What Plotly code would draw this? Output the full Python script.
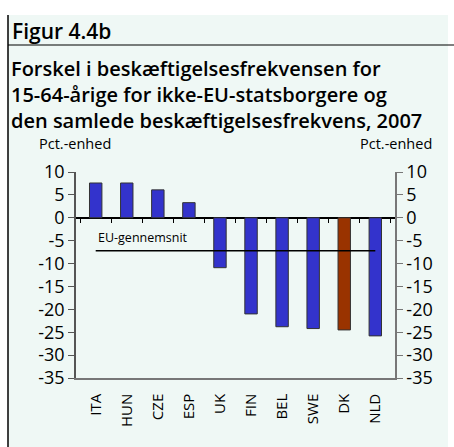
import plotly.graph_objects as go

# data
countries = ['ITA', 'HUN', 'CZE', 'ESP', 'UK', 'FIN', 'BEL', 'SWE', 'DK', 'NLD']
diff = [7.6, 7.6, 6.1, 3.3, -10.9, -21.0, -23.8, -24.2, -24.5, -25.8]
eu_avg = -7.2
y_ticks = [10, 5, 0, -5, -10, -15, -20, -25, -30, -35]

BLUE = '#3333cc'
RED = '#993300'
BG = '#eff8f5'
FONT = 'Open Sans'

W, H = 454, 447
L, R, T, B = 76, 59, 172, 69
PW, PH = W - L - R, H - T - B


def px(x):
    return (x - L) / PW


def py(y):
    return (H - B - y) / PH


colors = [RED if c == 'DK' else BLUE for c in countries]
tick_text = [str(v) for v in y_ticks]  # plain hyphen minus, as in the original

fig = go.Figure()
fig.add_trace(go.Bar(x=countries, y=diff, marker_color=colors,
                     marker_line=dict(color='#333333', width=1),
                     width=0.4, showlegend=False, hoverinfo='skip'))
fig.add_trace(go.Scatter(x=[countries[0], countries[-1]], y=[eu_avg, eu_avg],
                         xaxis='x2', mode='lines', line=dict(color='black', width=1.5),
                         showlegend=False, hoverinfo='skip'))
fig.add_trace(go.Scatter(x=countries, y=diff, yaxis='y2', mode='markers',
                         marker=dict(opacity=0), showlegend=False, hoverinfo='skip'))

axis_font = dict(family=FONT, size=18, color='black')
fig.update_layout(
    width=W, height=H,
    margin=dict(l=L, r=R, t=T, b=B, autoexpand=False),
    paper_bgcolor='white', plot_bgcolor=BG,
    font=dict(family=FONT, color='black'),
    xaxis=dict(type='category', categoryorder='array', categoryarray=countries,
               tickangle=-90, tickfont=dict(family=FONT, size=15), ticks='',
               showline=True, linecolor='#777777', linewidth=1.5, showgrid=False,
               ticklabelstandoff=8, automargin=False),
    xaxis2=dict(overlaying='x', matches='x', anchor='free', position=35 / 45,
                ticks='outside', tickson='boundaries', ticklen=4, tickcolor='black',
                showticklabels=False, showline=False, showgrid=False, automargin=False),
    yaxis=dict(range=[-35, 10], tickvals=y_ticks, ticktext=tick_text, ticks='outside',
               ticklen=6, tickcolor='#555555', showline=True, linecolor='#555555',
               linewidth=1.5, showgrid=False, zeroline=True, zerolinecolor='black',
               zerolinewidth=1.5, tickfont=axis_font, automargin=False),
    yaxis2=dict(overlaying='y', matches='y', side='right', range=[-35, 10],
                tickvals=y_ticks, ticktext=tick_text, ticks='outside', ticklen=6,
                tickcolor='#777777', showline=True, linecolor='#777777', linewidth=1.5,
                showgrid=False, zeroline=False, tickfont=axis_font, automargin=False),
)

# mint panel behind everything, frame lines
fig.add_shape(type='rect', xref='paper', yref='paper', layer='below',
              x0=px(8), x1=px(448), y0=py(447), y1=py(15),
              fillcolor=BG, line_width=0)
fig.add_shape(type='line', xref='paper', yref='paper',
              x0=px(8), x1=px(8), y0=py(447), y1=py(15),
              line=dict(color='black', width=1.5))
fig.add_shape(type='line', xref='paper', yref='paper',
              x0=px(8), x1=px(454), y0=py(45), y1=py(45),
              line=dict(color='black', width=1.2))

fig.add_annotation(text='Figur 4.4b', xref='paper', yref='paper', x=px(10), y=py(31),
                   xanchor='left', yanchor='middle', showarrow=False,
                   font=dict(family=FONT, size=21, weight=600))
title = ('Forskel i beskæftigelsesfrekvensen for<br>'
         '15-64-årige for ikke-EU-statsborgere og<br>'
         'den samlede beskæftigelsesfrekvens, 2007')
fig.add_annotation(text=title, xref='paper', yref='paper', x=px(9), y=py(95),
                   xanchor='left', yanchor='middle', align='left', showarrow=False,
                   font=dict(family=FONT, size=20, weight=600))

fig.add_annotation(text='Pct.-enhed', xref='paper', yref='paper', x=px(37), y=py(143),
                   xanchor='left', yanchor='middle', showarrow=False,
                   font=dict(family=FONT, size=14.5))
fig.add_annotation(text='Pct.-enhed', xref='paper', yref='paper', x=px(434), y=py(143),
                   xanchor='right', yanchor='middle', showarrow=False,
                   font=dict(family=FONT, size=14.5))
fig.add_annotation(text='EU-gennemsnit', xref='paper', yref='paper', x=px(143), y=py(237),
                   xanchor='center', yanchor='middle', showarrow=False,
                   font=dict(family=FONT, size=12.5))

# the page's default body margin would push the figure 8px off its place
fig.write_html('out.html', config={'displayModeBar': False},
               post_script="document.body.style.margin='0';")
